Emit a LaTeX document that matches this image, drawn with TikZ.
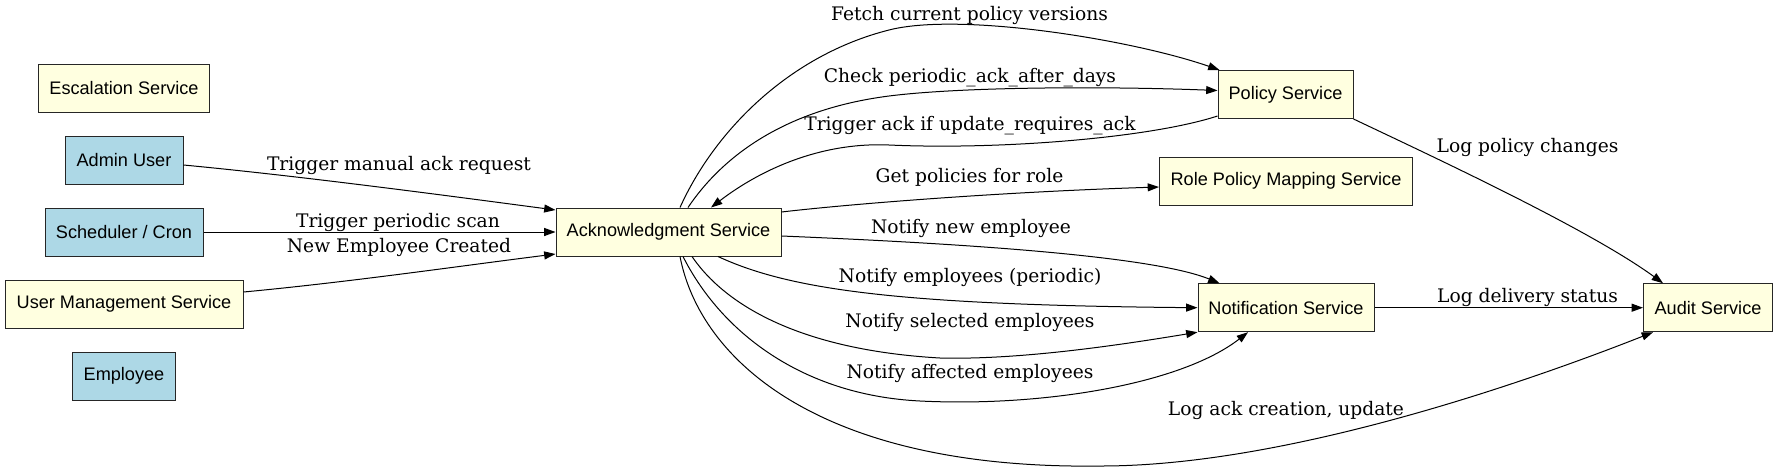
\documentclass[tikz,border=0pt]{standalone}
\usepackage{fontspec}
\setmainfont{DejaVu Serif}
\newfontfamily\nodefont{Liberation Sans}
\usetikzlibrary{arrows.meta,calc}
\definecolor{lyellow}{HTML}{FFFFE0}
\definecolor{lblue}{HTML}{ADD8E6}
\begin{document}
\begin{tikzpicture}[x=0.75pt,y=-0.75pt,
  box/.style={draw=black!85, line width=0.75pt, minimum height=36pt, inner sep=0pt,
              font=\nodefont\fontsize{13.6}{16}\selectfont},
  svc/.style={box, fill=lyellow},
  actor/.style={box, fill=lblue},
  edge/.style={draw=black, line width=0.75pt, -{Triangle[length=8.5pt,width=6pt]}},
  lbl/.style={anchor=base, inner sep=0pt, font=\fontsize{14}{16}\selectfont}]
\path[use as bounding box] (0,0) rectangle (1777,472);

% nodes
\node[svc,   minimum width=128.25pt] (esc)   at (124,88)      {Escalation Service};
\node[actor, minimum width=88.5pt]   (admin) at (124,160)     {Admin User};
\node[actor, minimum width=118.5pt]  (sched) at (124,232)     {Scheduler / Cron};
\node[svc,   minimum width=178.5pt]  (user)  at (124,304)     {User Management Service};
\node[actor, minimum width=77.25pt]  (emp)   at (124,376)     {Employee};
\node[svc,   minimum width=168.75pt] (ack)   at (668.5,232)   {Acknowledgment Service};
\node[svc,   minimum width=101.25pt] (pol)   at (1285.5,94.5) {Policy Service};
\node[svc,   minimum width=189.75pt] (role)  at (1286,181)    {Role Policy Mapping Service};
\node[svc,   minimum width=132pt]    (notif) at (1286,307.7)  {Notification Service};
\node[svc,   minimum width=96.75pt]  (audit) at (1708,307.7)  {Audit Service};

% edges
\draw[edge] ($(admin.east)+(0,5)$) .. controls (300,176) and (450,196) .. ($(ack.west)+(0,-22)$);
\draw[edge] (sched.east) -- (ack.west);
\draw[edge] ($(user.east)+(0,-12)$) .. controls (350,282) and (460,266) .. ($(ack.west)+(0,22)$);

\draw[edge] ($(ack.north)+(11.5,0)$) .. controls (715,130) and (790,55) .. (889,30)
            .. controls (959,12) and (1130,39) .. ($(pol.north west)+(2,0)$);
\draw[edge] ($(ack.north)+(19.5,0)$) .. controls (720,160) and (780,110) .. (889,96)
            .. controls (960,87) and (1100,86) .. ($(pol.west)+(0,-4)$);
\draw[edge] ($(pol.south west)+(0,-3)$) .. controls (1150,138) and (1000,150) .. (889,145)
            .. controls (820,142) and (760,170) .. ($(ack.north)+(42.5,0)$);
\draw[edge] ($(ack.east)+(0,-20)$) .. controls (850,204) and (1000,192) .. ($(role.west)+(0,6)$);

\draw[edge] ($(ack.east)+(0,4)$) .. controls (950,243) and (1150,255) .. ($(notif.north west)+(22,0)$);
\draw[edge] ($(ack.south)+(49.5,0)$) .. controls (790,290) and (900,305) .. (notif.west);
\draw[edge] ($(ack.south)+(23.5,0)$) .. controls (725,305) and (800,350) .. (940,358)
            .. controls (1020,360) and (1120,345) .. (notif.south west);
\draw[edge] ($(ack.south)+(14.5,0)$) .. controls (720,330) and (800,395) .. (920,401)
            .. controls (1040,407) and (1180,385) .. ($(notif.south)+(-38,0)$);
\draw[edge] ($(ack.south)+(11.5,0)$) .. controls (700,360) and (820,470) .. (1101,466)
            .. controls (1281,466) and (1514,387) .. ($(audit.south west)+(10,0)$);

\draw[edge] (pol.south east) .. controls (1440,160) and (1590,230) .. ($(audit.north west)+(20,0)$);
\draw[edge] (notif.east) -- (audit.west);

% labels
\node[lbl] (l1)  at (399,170)    {Trigger manual ack request};
\node[lbl] (l2)  at (398,227.5)  {Trigger periodic scan};
\node[lbl] (l3)  at (399,252)    {New Employee Created};
\node[lbl] (l4)  at (969.5,20)   {Fetch current policy versions};
\node[lbl] (l5)  at (970,82.7)   {Check periodic\_ack\_after\_days};
\node[lbl] (l6)  at (970,130)    {Trigger ack if update\_requires\_ack};
\node[lbl] (l7)  at (969.5,182.7){Get policies for role};
\node[lbl] (l8)  at (971,233.3)  {Notify new employee};
\node[lbl] (l9)  at (970,282.7)  {Notify employees (periodic)};
\node[lbl] (l10) at (970,327.7)  {Notify selected employees};
\node[lbl] (l11) at (970,378.7)  {Notify affected employees};
\node[lbl] (l12) at (1286,415.3) {Log ack creation, update};
\node[lbl] (l13) at (1527.5,152.7){Log policy changes};
\node[lbl] (l14) at (1527.5,302.7){Log delivery status};
\end{tikzpicture}
\end{document}
